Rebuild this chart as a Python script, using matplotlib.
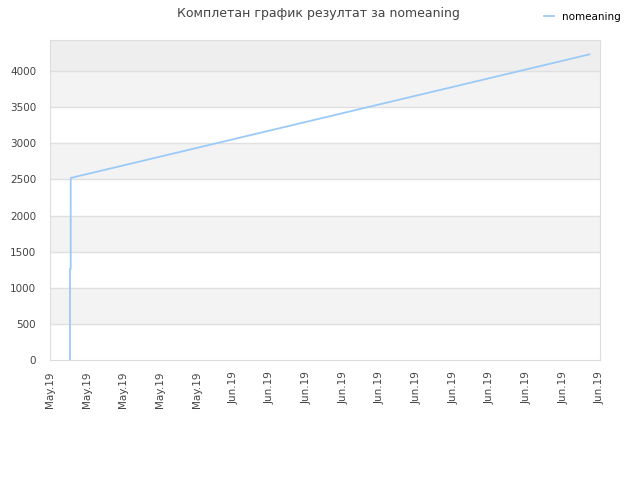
import matplotlib
matplotlib.use('Agg')
import matplotlib.pyplot as plt

# Podaci (dani od pocetka ose, rezultat)
days = [1.09, 1.09, 1.13, 1.13, 29.42]
scores = [0, 1260, 1260, 2520, 4231]
tick_pos = list(range(0, 31, 2))
tick_labels = ['May.19'] * 5 + ['Jun.19'] * 11
series_name = 'nomeaning'

fig = plt.figure(figsize=(6.4, 4.8), dpi=100)
ax = fig.add_axes([50 / 640, 120 / 480, 550 / 640, 320 / 480])

ymax = 4430
# naizmenicne trake u pozadini
for lo in range(0, 4000, 500):
    if (lo // 500) % 2 == 1:
        ax.axhspan(lo, lo + 500, color='#f3f3f3', zorder=0, lw=0)
ax.axhspan(4000, ymax, color='#eeeeee', zorder=0, lw=0)
for yv in range(500, 4001, 500):
    ax.axhline(yv, color='#e0e0e0', lw=1, zorder=1)

ax.plot(days, scores, color='#9ccaf7', lw=1.3, zorder=3, label=series_name)

ax.set_xlim(0, 30)
ax.set_ylim(0, ymax)
ax.set_xticks(tick_pos)
ax.set_xticklabels(tick_labels, rotation=90, fontsize=7.5, color='#444444')
ax.set_yticks(range(0, 4001, 500))
ax.tick_params(axis='y', labelsize=7.5, colors='#444444', length=0, pad=10)
ax.tick_params(axis='x', length=0, pad=8)
for s in ax.spines.values():
    s.set_color('#dddddd')

fig.text(0.497, 0.972, 'Комплетан график резултат за nomeaning', ha='center', va='center',
         fontsize=9, color='#444444')
fig.legend(loc='upper right', bbox_to_anchor=(0.985, 0.995), frameon=False, fontsize=7.5,
           handlelength=1.0, handletextpad=0.8)

fig.savefig('out.png', dpi=100)
